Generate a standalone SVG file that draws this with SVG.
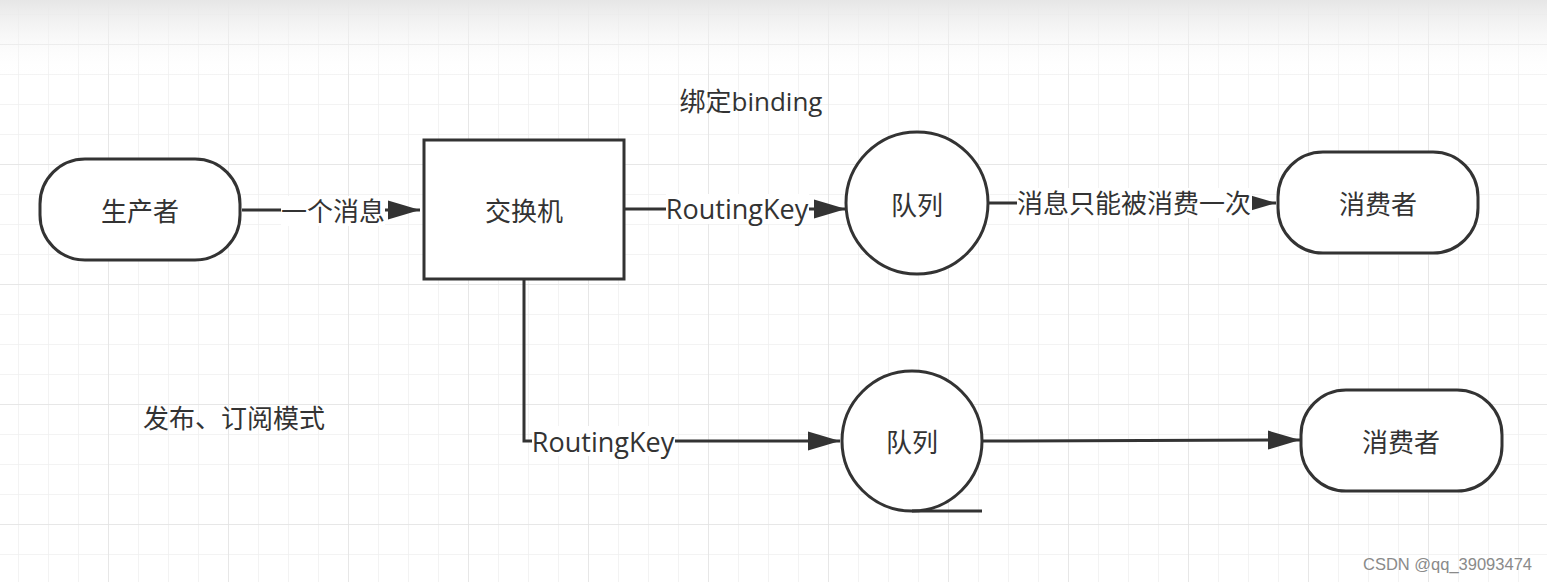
<svg xmlns="http://www.w3.org/2000/svg" width="1547" height="582" viewBox="0 0 1547 582">
<style>
.shape{fill:#fff;stroke:#333;stroke-width:3}
.edge{fill:none;stroke:#333;stroke-width:3}
.t{font-family:"Open Sans","Noto Sans CJK SC",sans-serif;font-size:26px;fill:#333;dominant-baseline:central}
.rk{font-size:27px}
.lb{fill:#fff}
</style>
<defs>
<pattern id="minor" width="30" height="30" patternUnits="userSpaceOnUse" x="18" y="14">
<path d="M0 0H30M0 0V30" fill="none" stroke="#f0f0f0" stroke-width="1.5"/>
</pattern>
<pattern id="major" width="120" height="120" patternUnits="userSpaceOnUse" x="108" y="44">
<path d="M0 0H120M0 0V120" fill="none" stroke="#e3e3e3" stroke-width="1.5"/>
</pattern>
<linearGradient id="top" x1="0" y1="0" x2="0" y2="1">
<stop offset="0" stop-color="#e6e6e6" stop-opacity="1"/>
<stop offset="1" stop-color="#ffffff" stop-opacity="0"/>
</linearGradient>
<marker id="arr" viewBox="0 0 32 20" refX="32" refY="10" markerWidth="32" markerHeight="20" markerUnits="userSpaceOnUse" orient="auto">
<path d="M0 0.5L32 10L0 19.5Z" fill="#333"/>
</marker>
</defs>
<rect width="1547" height="582" fill="#fff"/>
<rect width="1547" height="582" fill="url(#minor)"/>
<rect width="1547" height="582" fill="url(#major)"/>
<rect width="1547" height="78" fill="url(#top)"/>

<g id="connectors">
<path class="edge" d="M242 210H420" marker-end="url(#arr)"/>
<path class="edge" d="M624 209H846" marker-end="url(#arr)"/>
<path class="edge" d="M988 203H1276" marker-end="url(#arr)"/>
<path class="edge" d="M524 280V441H840" marker-end="url(#arr)"/>
<path class="edge" d="M982 441L1300 440" marker-end="url(#arr)"/>
<g id="edge-labels">
<rect class="lb" x="281" y="196" width="104" height="30"/>
<text class="t" x="333" y="211" text-anchor="middle">一个消息</text>
<rect class="lb" x="666" y="194" width="143" height="30"/>
<text class="t rk" x="737" y="208" text-anchor="middle">RoutingKey</text>
<rect class="lb" x="1017" y="188" width="235" height="30"/>
<text class="t" x="1134" y="203" text-anchor="middle">消息只能被消费一次</text>
<rect class="lb" x="532" y="426" width="143" height="30"/>
<text class="t rk" x="603" y="441" text-anchor="middle">RoutingKey</text>
</g>
</g>

<g id="producer">
<rect class="shape" x="40" y="159" width="200" height="101" rx="45" ry="45"/>
<text class="t" x="140" y="211" text-anchor="middle">生产者</text>
</g>
<g id="exchange">
<rect class="shape" x="424" y="140" width="200" height="139"/>
<text class="t" x="524" y="211" text-anchor="middle">交换机</text>
</g>
<g id="queue1">
<circle class="shape" cx="917" cy="203" r="71"/>
<text class="t" x="917" y="205" text-anchor="middle">队列</text>
</g>
<g id="consumer1">
<rect class="shape" x="1278" y="152" width="200" height="101" rx="45" ry="45"/>
<text class="t" x="1378" y="204" text-anchor="middle">消费者</text>
</g>
<g id="queue2">
<circle class="shape" cx="912" cy="441" r="70"/>
<path class="edge" d="M912 511H982"/>
<text class="t" x="912" y="442" text-anchor="middle">队列</text>
</g>
<g id="consumer2">
<rect class="shape" x="1301" y="390" width="201" height="101" rx="45" ry="45"/>
<text class="t" x="1401" y="442" text-anchor="middle">消费者</text>
</g>
<g id="notes">
<text class="t" x="751" y="101" text-anchor="middle">绑定binding</text>
<text class="t" x="234" y="418" text-anchor="middle">发布、订阅模式</text>
<text x="1532" y="564" text-anchor="end" font-family="Liberation Sans,Arial,sans-serif" font-size="16.5" fill="#8a8a8a" dominant-baseline="central">CSDN @qq_39093474</text>
</g>
</svg>
